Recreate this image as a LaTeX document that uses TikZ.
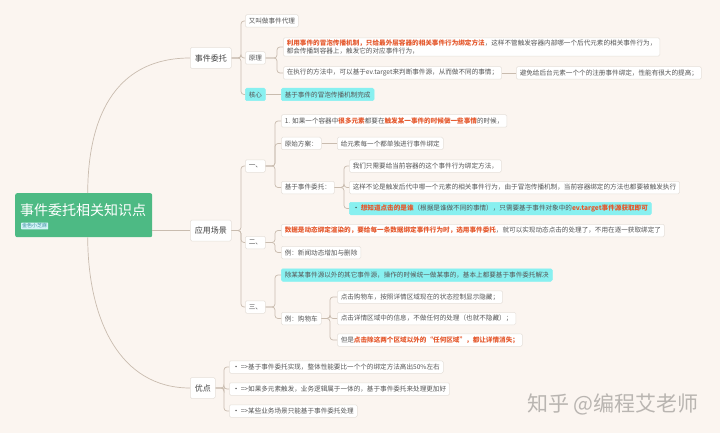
\documentclass[tikz,border=0pt]{standalone}
\usepackage{fontspec}
\setmainfont{Noto Sans CJK SC}
\definecolor{bgc}{HTML}{FBF5F0}
\definecolor{boxln}{HTML}{E6E0DA}
\definecolor{lnc}{HTML}{C9BCAF}
\definecolor{txt}{HTML}{555555}
\definecolor{orng}{HTML}{E5582C}
\definecolor{cyanf}{HTML}{88F0F0}
\definecolor{rootg}{HTML}{4DBA84}
\definecolor{tagf}{HTML}{D2F3F6}
\definecolor{tagt}{HTML}{3A8FA0}
\definecolor{wm}{HTML}{B9B5B1}
\newcommand\hl[1]{\textcolor{orng}{\textbf{#1}}}
\newcommand\mmlink[3]{\draw[conn] (#1.east) -- (#1.east -| #3) |- (#2.west);}
\tikzset{
 box/.style={draw=boxln, fill=white, rounded corners=1.5pt, line width=0.5pt, inner xsep=3.5pt, inner ysep=0pt, minimum height=12.5pt, text=txt, anchor=west, font=\fontsize{6.6}{8}\selectfont},
 cbox/.style={box, fill=cyanf, draw=cyanf},
 lone/.style={box, font=\fontsize{8}{9}\selectfont, minimum height=21pt, inner xsep=4.5pt, text=black!75},
 conn/.style={draw=lnc, line width=0.7pt, rounded corners=3pt},
}
\begin{document}
\begin{tikzpicture}[x=1pt,y=-1pt]
\fill[bgc] (0,0) rectangle (720,433);
\useasboundingbox (0,0) rectangle (720,433);

% root
\node[fill=rootg, rounded corners=2pt, minimum width=137pt, minimum height=44pt, anchor=north west, inner sep=0pt] (root) at (15,193) {};
\node[anchor=west, text=white, font=\fontsize{14}{16}\selectfont, inner sep=0pt] (title) at (20,210) {事件委托相关知识点};
\node[anchor=west, fill=tagf, text=tagt, font=\fontsize{5}{6}\selectfont, inner xsep=1pt, inner ysep=1pt, rounded corners=0.5pt] (tag) at (21,226) {金色小芝麻};

% level 1
\node[lone] (n1) at (190,58) {事件委托};
\node[lone] (n2) at (190,230.5) {应用场景};
\node[lone] (n3) at (190,388) {优点};

\draw[conn] ([xshift=4pt]root.north) .. controls (88,110) and (120,58) .. (n1.west);
\draw[conn] (root.east |- n2.west) -- (n2.west);
\draw[conn] ([xshift=4pt]root.south) .. controls (88,320) and (120,388) .. (n3.west);

% vertical guide coordinates
\coordinate (v1) at (241,0);
\coordinate (v2) at (277,0);
\coordinate (v3) at (275,0);
\coordinate (v4) at (344,0);
\coordinate (v5) at (330,0);
\coordinate (v6) at (224,0);

% 事件委托
\node[box] (a1) at (245,21) {又叫做事件代理};
\node[box] (a2) at (245,58) {原理};
\node[cbox] (a3) at (245,94.5) {核心};
\node[box, align=left, inner ysep=2pt] (b1) at (283,47) {\hl{利用事件的冒泡传播机制，只给最外层容器的相关事件行为绑定方法}，这样不管触发容器内部哪一个后代元素的相关事件行为，\\都会传播到容器上，触发它的对应事件行为，};
\node[box] (b2) at (283,73) {在执行的方法中，可以基于ev.target来判断事件源，从而做不同的事情；};
\node[box] (b3) at (516,73) {避免给后台元素一个个的注册事件绑定，性能有很大的提高；};
\node[cbox] (c1) at (281,94.5) {基于事件的冒泡传播机制完成};

\mmlink{n1}{a1}{v1}
\mmlink{n1}{a2}{v1}
\mmlink{n1}{a3}{v1}
\mmlink{a2}{b1}{v2}
\mmlink{a2}{b2}{v2}
\draw[conn] (b2.east) -- (b3.west);
\draw[conn] (a3.east) -- (c1.west);

% 应用场景
\node[box] (o1) at (245,166) {一、};
\node[box] (o2) at (245,242.5) {二、};
\node[box] (o3) at (245,307) {三、};
\mmlink{n2}{o1}{v1}
\mmlink{n2}{o2}{v1}
\mmlink{n2}{o3}{v1}

\node[box] (d1) at (281,121) {1. 如果一个容器中\hl{很多元素}都要在\hl{触发某一事件的时候做一些事情}的时候，};
\node[box] (d2) at (281,143.5) {原始方案：};
\node[box] (d2a) at (337,143.5) {给元素每一个都单独进行事件绑定};
\node[box] (d3) at (281,187.5) {基于事件委托：};
\node[box] (e1) at (349,166) {我们只需要给当前容器的这个事件行为绑定方法，};
\node[box] (e2) at (349,187.5) {这样不论是触发后代中哪一个元素的相关事件行为，由于冒泡传播机制，当前容器绑定的方法也都要被触发执行};
\node[cbox] (e3) at (349,208.5) {\textcolor{black!80}{\textbullet}\ \hl{想知道点击的是谁}（根据是谁做不同的事情），只需要基于事件对象中的\hl{ev.target事件源获取即可}};
\mmlink{o1}{d1}{v3}
\mmlink{o1}{d2}{v3}
\mmlink{o1}{d3}{v3}
\draw[conn] (d2.east) -- (d2a.west);
\mmlink{d3}{e1}{v4}
\mmlink{d3}{e2}{v4}
\mmlink{d3}{e3}{v4}

\node[box] (f1) at (281,230.5) {\hl{数据是动态绑定渲染的，要给每一条数据绑定事件行为时，选用事件委托}，就可以实现动态点击的处理了，不用在逐一获取绑定了};
\node[box] (f2) at (281,252.5) {例：新闻动态增加与删除};
\mmlink{o2}{f1}{v3}
\mmlink{o2}{f2}{v3}

\node[cbox] (g1) at (281,275) {除某某事件源以外的其它事件源，操作的时候统一做某事的，基本上都要基于事件委托解决};
\node[box] (g2) at (281,318.5) {例：购物车};
\node[box] (h1) at (337,297) {点击购物车，按照详情区域现在的状态控制显示隐藏；};
\node[box] (h2) at (337,318.5) {点击详情区域中的信息，不做任何的处理（也就不隐藏）；};
\node[box] (h3) at (337,340) {但是\hl{点击除这两个区域以外的“任何区域”，都让详情消失；}};
\mmlink{o3}{g1}{v3}
\mmlink{o3}{g2}{v3}
\mmlink{g2}{h1}{v5}
\mmlink{g2}{h2}{v5}
\mmlink{g2}{h3}{v5}

% 优点
\node[box] (k1) at (229,367) {\textcolor{black!80}{\textbullet}\ =>基于事件委托实现，整体性能要比一个个的绑定方法高出50\%左右};
\node[box] (k2) at (229,389) {\textcolor{black!80}{\textbullet}\ =>如果多元素触发，业务逻辑属于一体的，基于事件委托来处理更加好};
\node[box] (k3) at (229,411) {\textcolor{black!80}{\textbullet}\ =>某些业务场景只能基于事件委托处理};
\mmlink{n3}{k1}{v6}
\mmlink{n3}{k2}{v6}
\mmlink{n3}{k3}{v6}

% watermark
\node[text=wm, font=\fontsize{21}{24}\selectfont, inner sep=0pt] (wmk) at (613,404) {知乎 @编程艾老师};
\end{tikzpicture}
\end{document}
